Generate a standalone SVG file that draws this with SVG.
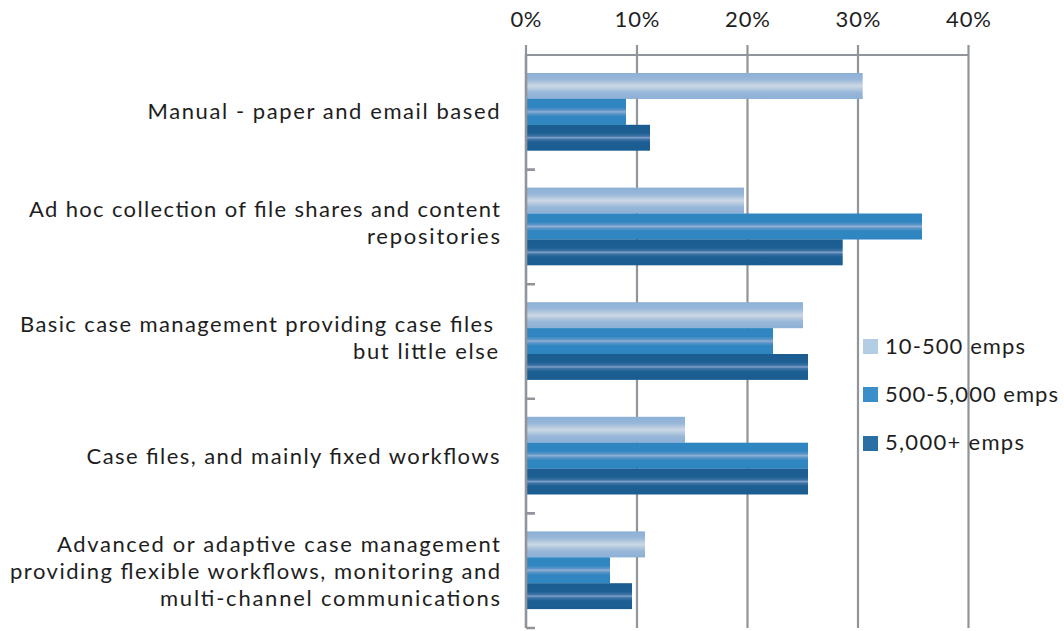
<svg xmlns="http://www.w3.org/2000/svg" width="1064" height="631" viewBox="0 0 1064 631">
<defs>
<linearGradient id="gLight" x1="0" y1="0" x2="0" y2="1">
<stop offset="0" stop-color="#8db0d6"/><stop offset="0.25" stop-color="#98b7d9"/><stop offset="0.5" stop-color="#ccd8e4"/><stop offset="0.75" stop-color="#98b7d9"/><stop offset="1" stop-color="#8db0d6"/>
</linearGradient>
<linearGradient id="gMid" x1="0" y1="0" x2="0" y2="1">
<stop offset="0" stop-color="#2e86c1"/><stop offset="0.32" stop-color="#3086c0"/><stop offset="0.44" stop-color="#5f97c8"/><stop offset="0.5" stop-color="#95b1d6"/><stop offset="0.56" stop-color="#5f97c8"/><stop offset="0.68" stop-color="#3086c0"/><stop offset="1" stop-color="#2e86c1"/>
</linearGradient>
<linearGradient id="gDark" x1="0" y1="0" x2="0" y2="1">
<stop offset="0" stop-color="#1b5d90"/><stop offset="0.32" stop-color="#1d5f92"/><stop offset="0.44" stop-color="#3f74a7"/><stop offset="0.5" stop-color="#82a2c9"/><stop offset="0.56" stop-color="#3f74a7"/><stop offset="0.68" stop-color="#1d5f92"/><stop offset="1" stop-color="#1b5d90"/>
</linearGradient>
</defs>
<style>
text{font-family:Lato,"Open Sans","Liberation Sans",sans-serif;font-size:22px;fill:#1e1e1e}
.cat{text-anchor:end}
.ax{text-anchor:middle}
.grid{stroke:#8f959b;stroke-width:2.2;fill:none}
.l{fill:url(#gLight)}
.m{fill:url(#gMid)}
.d{fill:url(#gDark)}
</style>
<rect width="1064" height="631" fill="#ffffff"/>
<g id="axis">
<path class="grid" d="M637 45V628M747.5 45V628M858 45V628M968.5 45V628M526 55H968.5M526 45V55"/>
<text class="ax" x="526" y="27" textLength="31">0%</text>
<text class="ax" x="637" y="27" textLength="45">10%</text>
<text class="ax" x="747.5" y="27" textLength="45">20%</text>
<text class="ax" x="858" y="27" textLength="45">30%</text>
<text class="ax" x="968.5" y="27" textLength="45">40%</text>
</g>
<g id="cat1">
<rect class="l" x="527" y="73" width="335.7" height="26"/>
<rect class="m" x="527" y="98.9" width="99" height="26"/>
<rect class="d" x="527" y="124.8" width="123" height="25.9"/>
<text class="cat" x="499.5" y="119" textLength="352">Manual - paper and email based</text>
</g>
<g id="cat2">
<rect class="l" x="527" y="187.6" width="217" height="26"/>
<rect class="m" x="527" y="213.5" width="395" height="26"/>
<rect class="d" x="527" y="239.4" width="315.7" height="25.9"/>
<text class="cat"><tspan x="500" y="217" textLength="471">Ad hoc collection of file shares and content</tspan><tspan x="500" y="244" textLength="133">repositories</tspan></text>
</g>
<g id="cat3">
<rect class="l" x="527" y="302.2" width="276" height="26"/>
<rect class="m" x="527" y="328.1" width="246" height="26"/>
<rect class="d" x="527" y="354" width="281" height="25.9"/>
<text class="cat"><tspan x="493" y="332" textLength="473">Basic case management providing case files</tspan><tspan x="498" y="359" textLength="145">but little else</tspan></text>
</g>
<g id="cat4">
<rect class="l" x="527" y="416.8" width="158" height="26"/>
<rect class="m" x="527" y="442.7" width="281" height="26"/>
<rect class="d" x="527" y="468.6" width="281" height="25.9"/>
<text class="cat" x="499.5" y="464" textLength="413">Case files, and mainly fixed workflows</text>
</g>
<g id="cat5">
<rect class="l" x="527" y="531.4" width="118" height="26"/>
<rect class="m" x="527" y="557.3" width="83" height="26"/>
<rect class="d" x="527" y="583.2" width="105" height="25.9"/>
<text class="cat"><tspan x="500" y="552" textLength="443">Advanced or adaptive case management</tspan><tspan x="500" y="579" textLength="490">providing flexible workflows, monitoring and</tspan><tspan x="500" y="606" textLength="340">multi-channel communications</tspan></text>
</g>
<g id="leftaxis">
<path class="grid" style="stroke-width:2.6" d="M526 55V628M526 169.6H535M526 284.2H535M526 398.8H535M526 513.4H535M526 628H535"/>
</g>
<g id="legend">
<rect x="863" y="339" width="15" height="15" fill="#b3cde4"/>
<text x="885" y="354" textLength="140">10-500 emps</text>
<rect x="863" y="387" width="15" height="15" fill="#3a8fcb"/>
<text x="885" y="402" textLength="173">500-5,000 emps</text>
<rect x="863" y="436" width="15" height="15" fill="#2a6fa3"/>
<text x="885" y="450" textLength="139">5,000+ emps</text>
</g>
</svg>
